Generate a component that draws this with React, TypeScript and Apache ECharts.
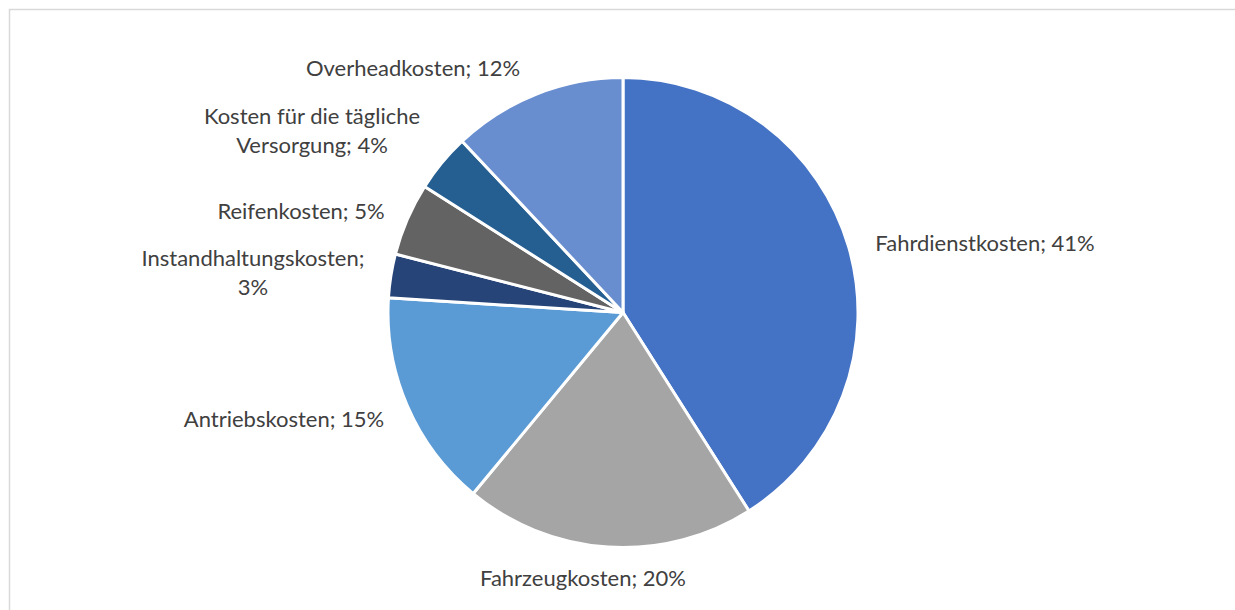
import React, { useEffect, useRef } from "react";
import * as echarts from "echarts";

const categories = [
  "Fahrdienstkosten",
  "Fahrzeugkosten",
  "Antriebskosten",
  "Instandhaltungskosten",
  "Reifenkosten",
  "Kosten für die tägliche Versorgung",
  "Overheadkosten",
];
const shares = [41, 20, 15, 3, 5, 4, 12];
const colors = ["#4472C4", "#A5A5A5", "#5B9BD5", "#264478", "#636363", "#255E91", "#698ED0"];

// label text layout (line breaks) and label anchor positions (styles)
const labelTexts = [
  "Fahrdienstkosten; 41%",
  "Fahrzeugkosten; 20%",
  "Antriebskosten; 15%",
  "Instandhaltungskosten;\n3%",
  "Reifenkosten; 5%",
  "Kosten für die tägliche\nVersorgung; 4%",
  "Overheadkosten; 12%",
];
const labelPos: [number, number][] = [
  [985, 242],
  [583, 577],
  [284, 418],
  [253, 272],
  [301, 210],
  [312, 130],
  [413, 67],
];

export default function App() {
  const ref = useRef<HTMLDivElement>(null);
  useEffect(() => {
    if (!ref.current) return;
    const chart = echarts.init(ref.current, null, { renderer: "svg" });
    chart.setOption({
      animation: false,
      backgroundColor: "#FFFFFF",
      graphic: [
        {
          type: "rect",
          shape: { x: 9.5, y: 9.5, width: 1400, height: 800 },
          style: { fill: "none", stroke: "#D9D9D9", lineWidth: 1.5 },
          silent: true,
        },
      ],
      series: [
        {
          type: "pie",
          center: [623, 312.5],
          radius: [0, 235],
          startAngle: 90,
          clockwise: true,
          avoidLabelOverlap: false,
          itemStyle: { borderColor: "#FFFFFF", borderWidth: 3 },
          label: {
            show: true,
            position: "outside",
            color: "#404040",
            fontFamily: "Lato",
            fontSize: 22,
            lineHeight: 29,
            align: "center",
            formatter: (p: any) => labelTexts[p.dataIndex],
          },
          labelLine: { show: false },
          labelLayout: (p: any) => ({
            x: labelPos[p.dataIndex][0],
            y: labelPos[p.dataIndex][1],
            align: "center",
            verticalAlign: "middle",
          }),
          emphasis: { disabled: true },
          data: categories.map((c, i) => ({
            name: c,
            value: shares[i],
            itemStyle: { color: colors[i] },
          })),
        },
      ],
    });
    return () => chart.dispose();
  }, []);
  return (
    <div
      ref={ref}
      style={{ position: "absolute", left: 0, top: 0, width: 1235, height: 610 }}
    />
  );
}
